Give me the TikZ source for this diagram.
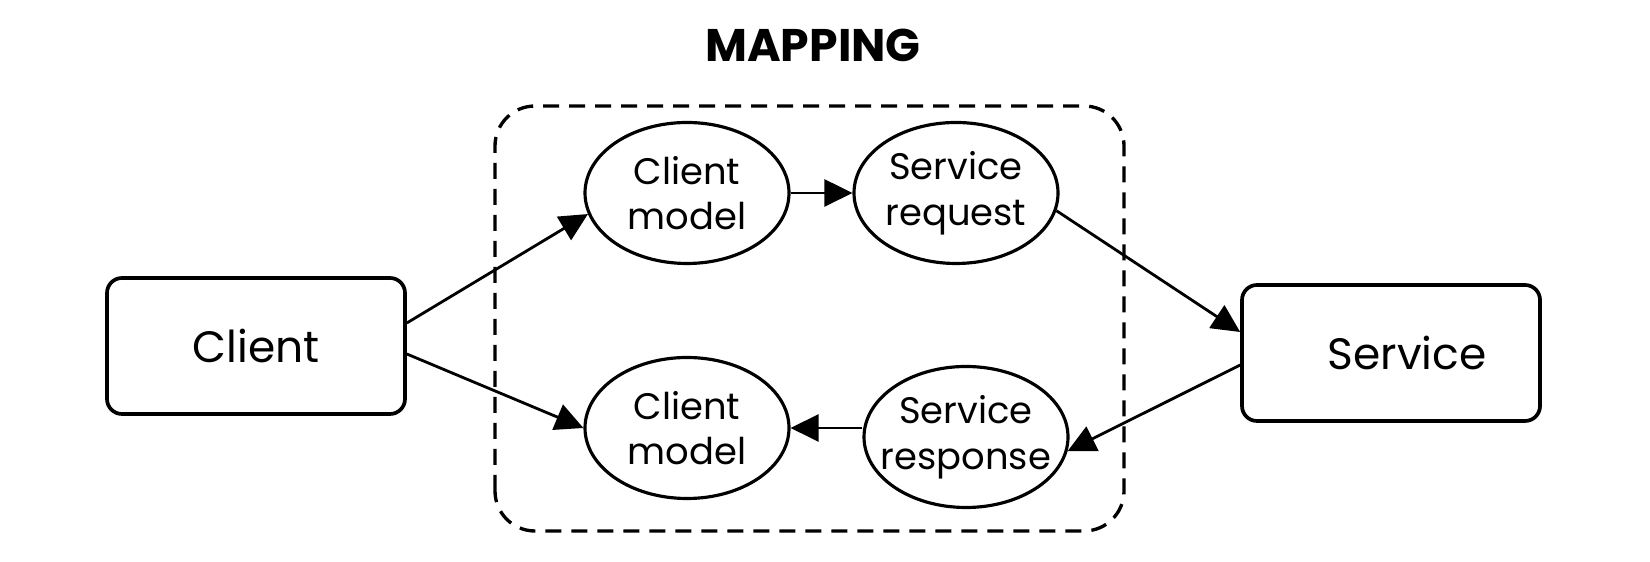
\documentclass[tikz,border=0pt]{standalone}
\usepackage{fontspec}
\setmainfont{Poppins}
\usetikzlibrary{arrows.meta,shapes.geometric}

\begin{document}
\begin{tikzpicture}[
  box/.style={draw, line width=2.1pt, rounded corners=0.3cm, minimum width=5.96cm, minimum height=2.72cm, font=\fontsize{25}{30}\selectfont},
  oval/.style={draw, ellipse, line width=1.8pt, minimum width=4.08cm, minimum height=2.82cm, inner xsep=-0.5cm, inner ysep=0pt, align=center, font=\fontsize{21}{26}\selectfont},
  arr/.style={line width=1.6pt, -{Triangle[length=0.56cm,width=0.54cm]}}
]
\useasboundingbox (0,0) rectangle (33,11.24);

% mapping frame
\draw[line width=1.9pt, dash pattern=on 0.32cm off 0.2cm, rounded corners=0.8cm] (9.9,0.62) rectangle (22.48,9.12);
\node[font=\fontsize{26}{30}\selectfont\bfseries] (title) at (16.26,10.34) {MAPPING};

\node[box] (client) at (5.12,4.32) {Client};
\node[box] (service) at (27.82,4.18) {\hspace{0.64cm}Service};

\node[oval] (cmtop) at (13.74,7.38) {Client\\model};
\node[oval] (sreq) at (19.12,7.38) {Service\\request};
\node[oval] (cmbot) at (13.74,2.68) {Client\\model};
\node[oval] (sresp) at (19.32,2.50) {Service\\response};

\draw[arr] ([yshift=0.46cm]client.east) -- (cmtop.192);
\draw[arr] ([yshift=-0.16cm]client.east) -- (cmbot.west);
\draw[arr] (cmtop.east) -- (sreq.west);
\draw[arr] (sreq.-10) -- ([yshift=0.42cm]service.west);
\draw[arr] ([yshift=-0.24cm]service.west) -- (sresp.-8);
\draw[arr] (sresp.west |- cmbot.east) -- (cmbot.east);

\end{tikzpicture}
\end{document}
